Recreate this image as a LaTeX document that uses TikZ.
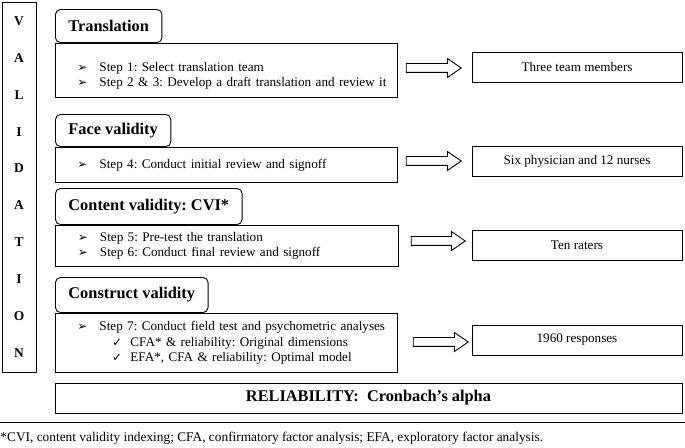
\documentclass[tikz,border=0pt]{standalone}
\usepackage{fontspec}
\setmainfont{Liberation Serif}
\newfontfamily\symfont{DejaVu Sans}
\usepackage{tikz}
\usetikzlibrary{shapes,shapes.arrows,positioning}

\newcommand{\arrbul}{\hspace*{16bp}\makebox[22bp][l]{\symfont\fontsize{12}{12}\selectfont ➢}}
\newcommand{\chkbul}{\hspace*{51bp}\makebox[18bp][l]{\symfont\fontsize{11.5}{11.5}\selectfont ✓}}

\begin{document}
\frenchspacing
\begin{tikzpicture}[line join=miter,line width=0.9bp,
  tabbox/.style={draw,fill=white,rounded corners=5bp,anchor=south west,inner xsep=13bp,
    font=\fontsize{16.4}{18}\selectfont\bfseries},
  stepbox/.style={draw,anchor=north west,minimum width=342bp,inner xsep=6bp,inner ysep=0bp,
    text width=330bp,align=left,font=\fontsize{13.2}{15.5}\selectfont},
  resbox/.style={draw,minimum width=210bp,minimum height=30bp,font=\fontsize{13.2}{15}\selectfont},
  hollow/.style={draw,single arrow,single arrow head extend=5bp,single arrow tip angle=69,
    inner sep=4bp,minimum width=18bp},
]
\useasboundingbox (0bp,0bp) rectangle (685bp,448bp);
%%
\node (valid) at (19bp,261bp) [draw,minimum width=34bp,minimum height=370bp,align=center,
  font=\fontsize{13.5}{37}\selectfont\bfseries] {V\\A\\L\\I\\D\\A\\T\\I\\O\\N};
%
\node (transbody) at (55bp,405bp) [stepbox,minimum height=54bp,text depth=8bp]
  {\arrbul Step 1: Select translation team\\
   \arrbul Step 2 \& 3: Develop a draft translation and review it};
\node (trans) at (55bp,405bp) [tabbox,minimum height=33bp] {Translation};
%
\node (facebody) at (55bp,301bp) [stepbox,minimum height=35bp]
  {\arrbul Step 4: Conduct initial review and signoff};
\node (face) at (55bp,301bp) [tabbox,minimum height=32bp] {Face validity};
%
\node (contbody) at (55bp,223bp) [stepbox,minimum height=41bp,minimum width=343bp]
  {\arrbul Step 5: Pre-test the translation\\
   \arrbul Step 6: Conduct final review and signoff};
\node (cont) at (55bp,223bp) [tabbox,minimum height=36bp] {Content validity: CVI*};
%
\node (consbody) at (55bp,135bp) [stepbox,minimum height=59bp]
  {\arrbul Step 7: Conduct field test and psychometric analyses\\
   \chkbul CFA* \& reliability: Original dimensions\\
   \chkbul EFA*, CFA \& reliability: Optimal model};
\node (cons) at (55bp,135bp) [tabbox,minimum height=35bp] {Construct validity};
%
\node (transres) at (577bp,381bp) [resbox] {Three team members};
\node (faceres) at (577bp,286.5bp) [resbox] {Six physician and 12 nurses};
\node (contres) at (577bp,202.5bp) [resbox] {Ten raters};
\node (consres) at (577bp,108bp) [resbox] {1960 responses};
%
\node (arr1) at (430.5bp,380bp) [hollow,minimum height=55bp] {};
\node (arr2) at (430.5bp,287bp) [hollow,minimum height=55bp] {};
\node (arr3) at (435bp,207bp) [hollow,minimum height=54bp] {};
\node (arr4) at (437.5bp,106bp) [hollow,minimum height=55bp] {};
%
\node (rel) at (368.5bp,50bp) [draw,minimum width=627bp,minimum height=30bp,
  font=\fontsize{16.4}{18}\selectfont\bfseries] {RELIABILITY:\ \ Cronbach’s alpha};
%
\coordinate (ruleL) at (0bp,26bp);
\coordinate (ruleR) at (685bp,26bp);
\draw [line width=0.8bp] (ruleL) -- (ruleR);
\node (note) at (0bp,10bp) [anchor=west,inner sep=0bp,font=\fontsize{13.4}{15}\selectfont]
  {*CVI, content validity indexing; CFA, confirmatory factor analysis; EFA, exploratory factor analysis.};
%
\end{tikzpicture}
\end{document}
